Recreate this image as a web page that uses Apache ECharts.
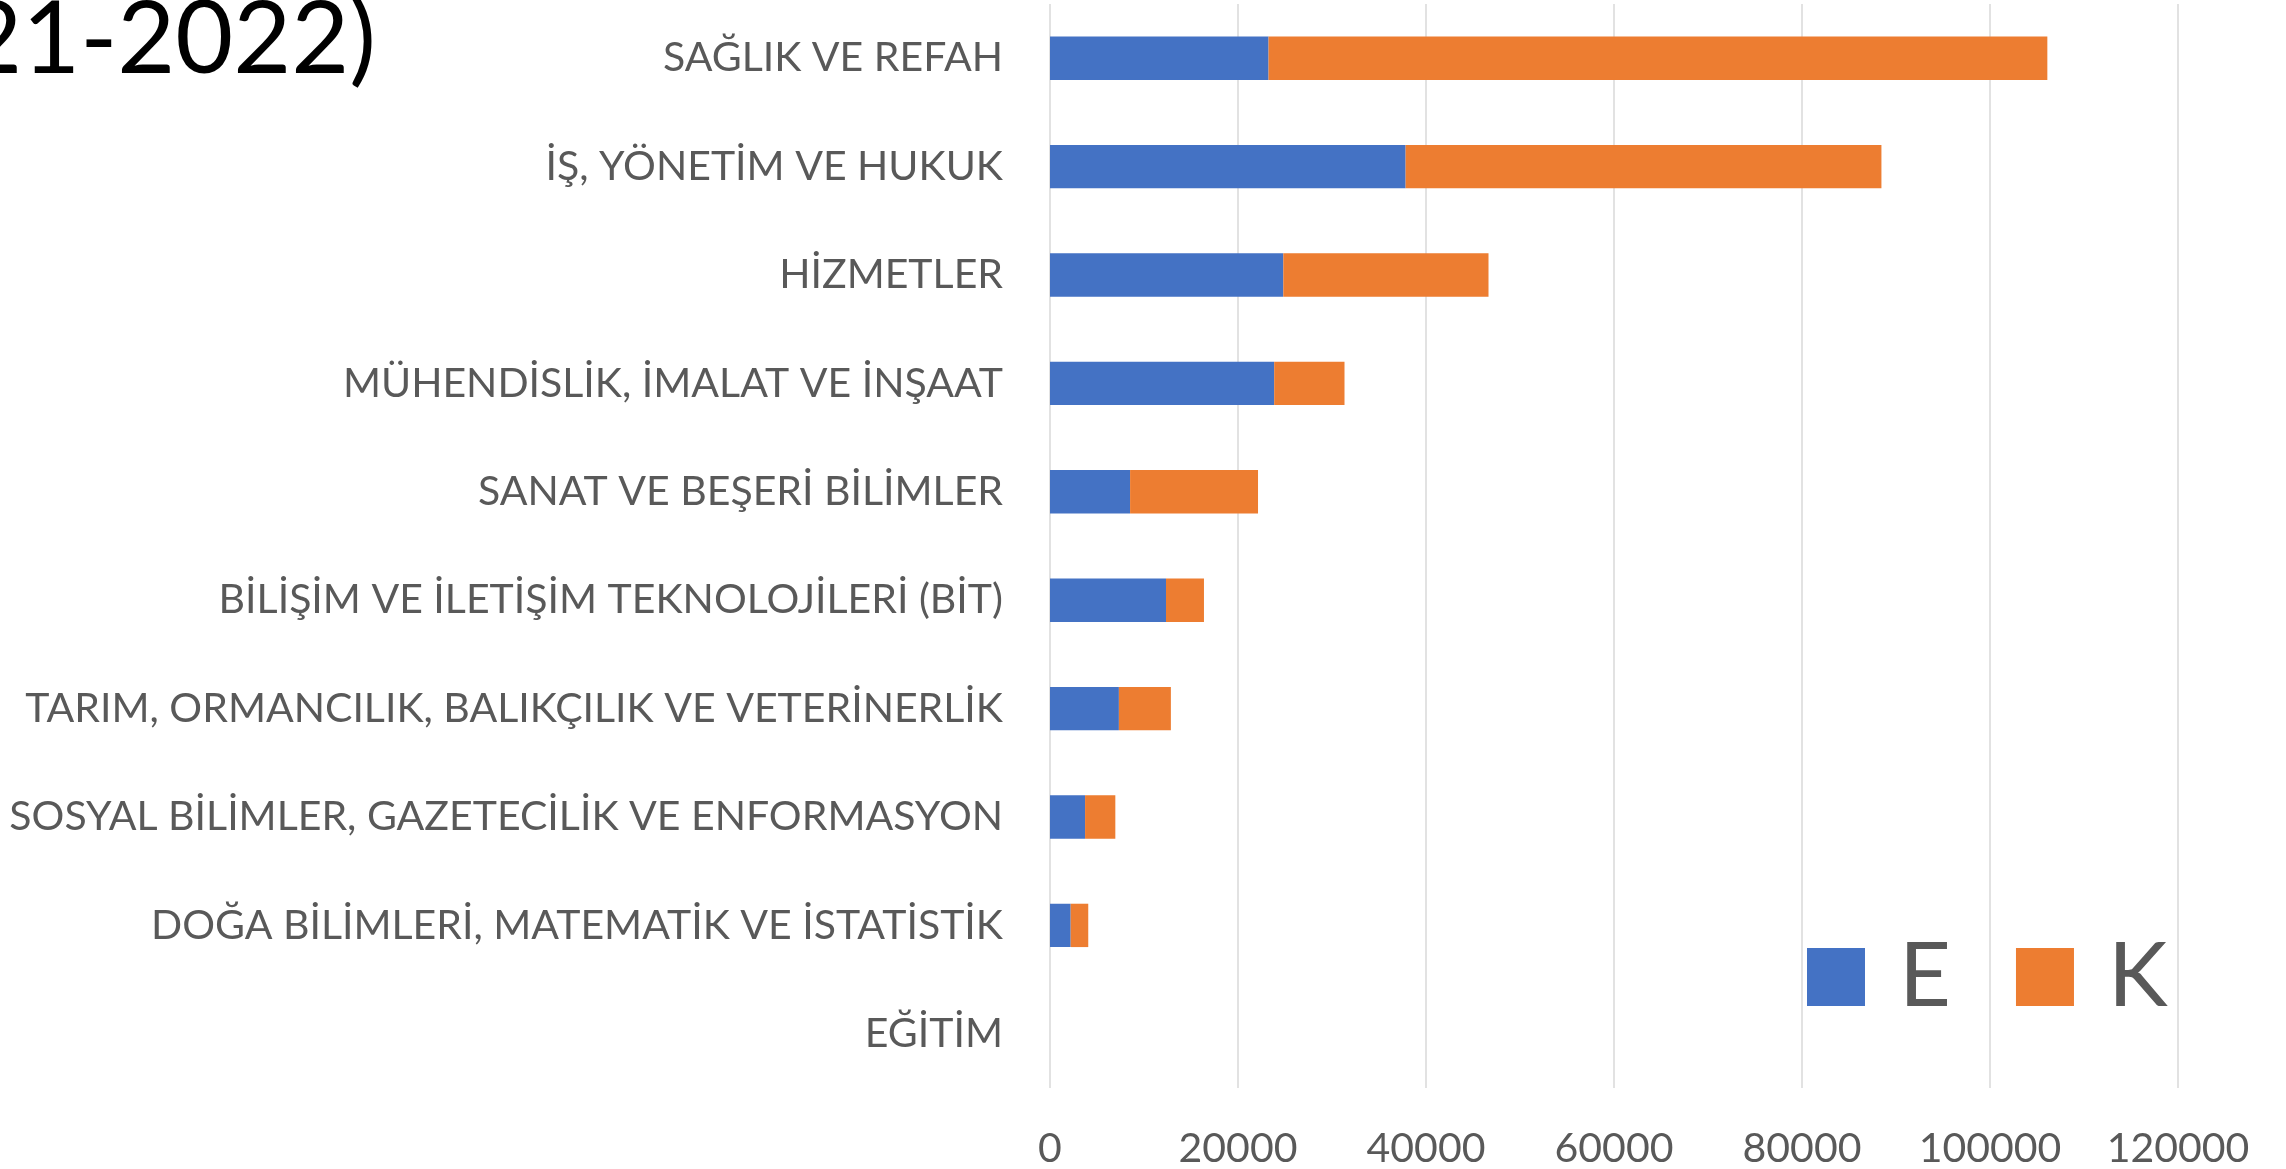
<!DOCTYPE html>
<html>
<head>
<meta charset="utf-8">
<script src="https://cdn.jsdelivr.net/npm/echarts@6/dist/echarts.min.js"></script>
<style>
	html, body {margin: 0; padding: 0; background: #fff;}
	#chart {width: 2286px; height: 1169px;}
</style>
</head>
<body>
<div id="chart"></div>
<script>
let categories = [
	'SAĞLIK VE REFAH',
	'İŞ, YÖNETİM VE HUKUK',
	'HİZMETLER',
	'MÜHENDİSLİK, İMALAT VE İNŞAAT',
	'SANAT VE BEŞERİ BİLİMLER',
	'BİLİŞİM VE İLETİŞİM TEKNOLOJİLERİ (BİT)',
	'TARIM, ORMANCILIK, BALIKÇILIK VE VETERİNERLİK',
	'SOSYAL BİLİMLER, GAZETECİLİK VE ENFORMASYON',
	'DOĞA BİLİMLERİ, MATEMATİK VE İSTATİSTİK',
	'EĞİTİM',
];
let valuesE = [23250, 37830, 24820, 23850, 8520, 12340, 7330, 3730, 2200, 0];
let valuesK = [82850, 50620, 21830, 7480, 13610, 4040, 5530, 3220, 1870, 0];
let xTicks = {min: 0, max: 120000, interval: 20000};
let titleText = '(2021-2022)';

let font = 'Lato';
let grey = '#595959';

let chart = echarts.init(document.getElementById('chart'));
chart.setOption({
	animation: false,
	textStyle: {fontFamily: font},
	grid: {left: 1050, right: 108, top: 4, bottom: 81, containLabel: false, outerBoundsMode: 'none'},
	graphic: [{
		type: 'text',
		style: {
			x: 376,
			y: 91,
			text: titleText,
			textAlign: 'right',
			verticalAlign: 'bottom',
			font: '100px Lato',
			fill: '#000',
		},
	}],
	legend: {
		left: 1807,
		top: 931,
		padding: 0,
		icon: 'rect',
		itemWidth: 58,
		itemHeight: 58,
		itemGap: 65,
		textStyle: {fontSize: 90, color: grey, lineHeight: 92, padding: [0, 0, 0, 29]},
		data: ['E', 'K'],
	},
	xAxis: {
		type: 'value',
		min: xTicks.min,
		max: xTicks.max,
		interval: xTicks.interval,
		axisLine: {show: false},
		axisTick: {show: false},
		axisLabel: {fontSize: 41, color: grey, margin: 40, formatter: (v) => String(v)},
		splitLine: {lineStyle: {color: '#D9D9D9', width: 1.5}},
	},
	yAxis: {
		type: 'category',
		inverse: true,
		data: categories,
		axisLine: {show: false},
		axisTick: {show: false},
		axisLabel: {fontSize: 41, color: grey, margin: 47},
	},
	series: [
		{
			name: 'E',
			type: 'bar',
			stack: 'total',
			barWidth: '40%',
			itemStyle: {color: '#4472C4'},
			data: valuesE,
		},
		{
			name: 'K',
			type: 'bar',
			stack: 'total',
			barWidth: '40%',
			itemStyle: {color: '#ED7D31'},
			data: valuesK,
		},
	],
});
</script>
</body>
</html>
